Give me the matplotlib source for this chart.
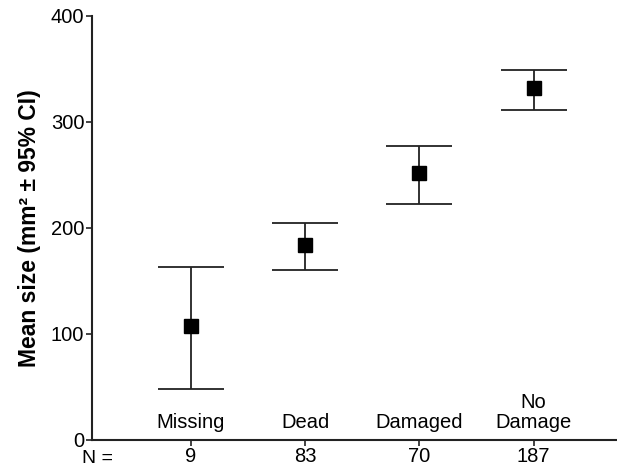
import numpy as np
import matplotlib
matplotlib.use("Agg")
import matplotlib.pyplot as plt

plt.rcParams['font.family'] = ['Liberation Sans', 'DejaVu Sans']

# data
groups = ['Missing', 'Dead', 'Damaged', 'No\nDamage']
n_counts = ['9', '83', '70', '187']
means = [107, 184, 252, 332]
ci_low = [48, 160, 223, 311]
ci_high = [163, 205, 277, 349]

x = np.arange(1, len(groups) + 1)
means = np.array(means)
yerr = np.array([means - np.array(ci_low), np.array(ci_high) - means])

fig = plt.figure(figsize=(6.17, 4.67), dpi=100)
ax = fig.add_axes([0.149, 0.058, 0.851, 0.908])

ax.errorbar(x, means, yerr=yerr, fmt='s', color='black', ms=10,
            ecolor='#222222', elinewidth=1.3, capsize=23.5, capthick=1.3)

ax.set_xlim(0.134, 4.73)
ax.set_ylim(0, 400)
ax.set_yticks([0, 100, 200, 300, 400])
ax.set_xticks(x)
ax.set_xticklabels(n_counts)

for xi, g in zip(x, groups):
    ax.text(xi, 7, g, ha='center', va='bottom', fontsize=14.5,
            linespacing=1.1)

# "N =" row label, level with the x tick labels
ax.text(0.01, -0.0635, 'N =', transform=ax.transAxes, ha='center',
        va='bottom', fontsize=14)

ax.spines['top'].set_visible(False)
ax.spines['right'].set_visible(False)
for s in ('left', 'bottom'):
    ax.spines[s].set_linewidth(1.5)
    ax.spines[s].set_color('#222222')
ax.tick_params(axis='both', length=4.5, width=1.2, labelsize=14.5, pad=1,
               color='#222222')
ax.tick_params(axis='x', pad=0.5)

ax.set_ylabel('Mean size (mm² ± 95% CI)', fontsize=16.5, fontweight='bold',
              labelpad=7)

fig.savefig('out.png', dpi=100)
